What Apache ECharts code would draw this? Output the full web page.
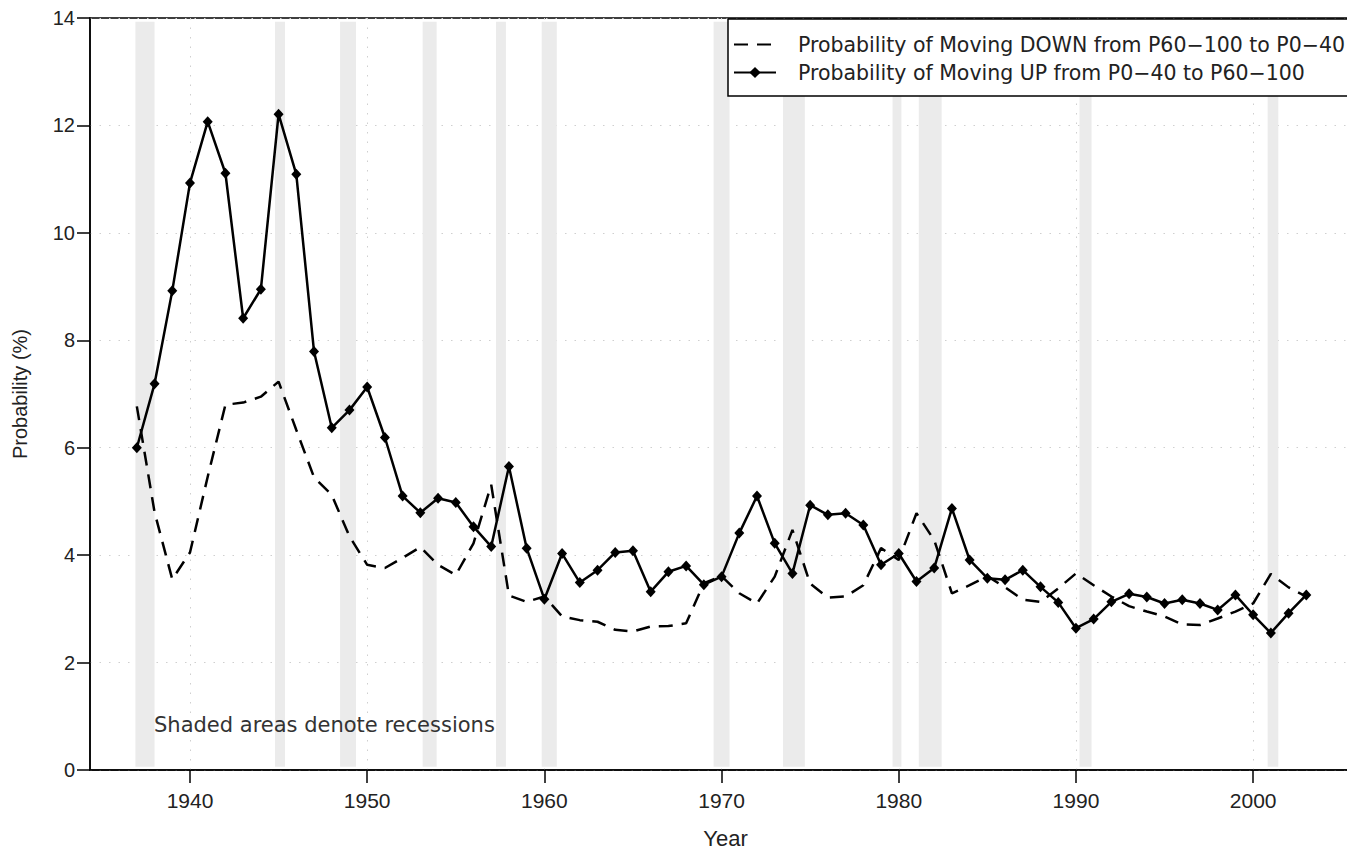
<!DOCTYPE html>
<html>
<head>
<meta charset="utf-8">
<script src="https://cdn.jsdelivr.net/npm/echarts@6/dist/echarts.min.js"></script>
<style>
html,body{margin:0;padding:0;background:#fff;}
#chart{width:1347px;height:850px;}
</style>
</head>
<body>
<div id="chart"></div>
<script>
// ---- data ----
const years = [];
for (let y = 1937; y <= 2003; y++) years.push(y);

const upValues = [
  6.00, 7.19, 8.92, 10.93, 12.07, 11.11, 8.41, 8.95, 12.21, 11.09,
  7.79, 6.37, 6.70, 7.13, 6.19, 5.10, 4.79, 5.06, 4.98, 4.53,
  4.16, 5.65, 4.13, 3.18, 4.03, 3.49, 3.72, 4.05, 4.08, 3.32,
  3.69, 3.80, 3.45, 3.60, 4.41, 5.10, 4.22, 3.66, 4.93, 4.75,
  4.78, 4.56, 3.82, 4.03, 3.51, 3.76, 4.87, 3.91, 3.57, 3.54,
  3.72, 3.41, 3.12, 2.64, 2.81, 3.13, 3.28, 3.22, 3.10, 3.17,
  3.10, 2.98, 3.26, 2.89, 2.55, 2.92, 3.26
];

const downValues = [
  6.77, 4.80, 3.55, 4.05, 5.46, 6.80, 6.84, 6.95, 7.23, 6.33,
  5.45, 5.12, 4.35, 3.82, 3.76, 3.95, 4.15, 3.82, 3.63, 4.22,
  5.31, 3.25, 3.13, 3.23, 2.86, 2.79, 2.76, 2.61, 2.58, 2.67,
  2.68, 2.73, 3.48, 3.61, 3.29, 3.10, 3.60, 4.47, 3.47, 3.21,
  3.23, 3.44, 4.13, 3.91, 4.78, 4.28, 3.29, 3.44, 3.61, 3.40,
  3.17, 3.13, 3.38, 3.66, 3.44, 3.23, 3.05, 2.95, 2.86, 2.71,
  2.70, 2.82, 2.95, 3.10, 3.65, 3.40, 3.23
];

const recessionStarts = [1936.92, 1944.80, 1948.47, 1953.13, 1957.27, 1959.85, 1969.55, 1973.47, 1979.65, 1981.13, 1990.20, 2000.82];
const recessionEnds   = [1938.00, 1945.36, 1949.37, 1953.92, 1957.83, 1960.70, 1970.45, 1974.70, 1980.15, 1982.42, 1990.88, 2001.42];

const xTickYears = [1940, 1950, 1960, 1970, 1980, 1990, 2000];
const yTicks = [0, 2, 4, 6, 8, 10, 12, 14];

const downName = 'Probability of Moving DOWN from P60\u2212100 to P0\u221240';
const upName = 'Probability of Moving UP from P0\u221240 to P60\u2212100';
const noteText = 'Shaded areas denote recessions';

// ---- chart ----
const FONT = '"Liberation Sans", Arial, Helvetica, sans-serif';
const WIDEFONT = '"DejaVu Sans", "Liberation Sans", Arial, sans-serif';
const chart = echarts.init(document.getElementById('chart'), null, {renderer: 'svg'});

const downData = years.map((y, i) => [y, downValues[i]]);
const upData = years.map((y, i) => [y, upValues[i]]);
const bands = recessionStarts.map((s, i) => [
  {coord: [s, 0.06]},
  {coord: [recessionEnds[i], 13.93]}
]);

chart.setOption({
  animation: false,
  backgroundColor: '#fff',
  grid: {
    left: 90, right: -2, top: 18, bottom: 80,
    outerBoundsMode: 'none',
    containLabel: false,
    show: true, borderColor: '#000', borderWidth: 1.5, backgroundColor: 'transparent'
  },
  xAxis: {
    type: 'value',
    min: 1934.357,
    max: 2005.41,
    splitNumber: 7,
    axisLine: {show: true, lineStyle: {color: '#000', width: 1.5}},
    axisTick: {show: true, length: 13, lineStyle: {color: '#000', width: 1.5}, customValues: xTickYears},
    axisLabel: {
      customValues: xTickYears, margin: 20, fontSize: 21, color: '#222', fontFamily: FONT,
      formatter: v => String(Math.round(v))
    },
    splitLine: {show: true, lineStyle: {type: [1.5, 8], color: '#cfcfcf', width: 1}},
    name: 'Year',
    nameLocation: 'middle',
    nameGap: 57,
    nameTextStyle: {fontSize: 22, color: '#222', fontFamily: FONT, padding: [0, 0, 0, 12]}
  },
  yAxis: {
    type: 'value',
    min: 0, max: 14, interval: 2,
    axisLine: {show: true, lineStyle: {color: '#000', width: 1.5}},
    axisTick: {show: true, length: 13, lineStyle: {color: '#000', width: 1.5}},
    axisLabel: {margin: 15, fontSize: 20, color: '#222', fontFamily: FONT},
    splitLine: {show: true, lineStyle: {type: [1.5, 8], color: '#cfcfcf', width: 1}},
    name: 'Probability (%)',
    nameLocation: 'middle',
    nameGap: 60,
    nameTextStyle: {fontSize: 20, color: '#222', fontFamily: FONT}
  },
  legend: {
    orient: 'vertical',
    left: 728, top: 19,
    padding: [15, 30, 13, 5],
    itemGap: 7,
    itemWidth: 42, itemHeight: 14,
    borderColor: '#000', borderWidth: 1.5,
    backgroundColor: '#fff',
    textStyle: {fontSize: 20.5, color: '#222', fontFamily: WIDEFONT, padding: [0, 0, 0, 17]},
    data: [
      {name: downName, itemStyle: {color: 'rgba(0,0,0,0)', borderWidth: 0}},
      {name: upName}
    ]
  },
  graphic: [{
    type: 'text',
    left: 154, top: 714,
    z: 100,
    style: {text: noteText, fill: '#333', font: '21px ' + WIDEFONT}
  }],
  series: [
    {
      name: 'recessions',
      type: 'line',
      data: [],
      z: 1,
      silent: true,
      markArea: {
        silent: true,
        itemStyle: {color: '#ebebeb'},
        data: bands
      }
    },
    {
      name: downName,
      type: 'line',
      data: downData,
      showSymbol: false,
      symbol: 'none',
      z: 3,
      lineStyle: {color: '#000', width: 2.5, type: [14, 9]},
      itemStyle: {color: '#000'}
    },
    {
      name: upName,
      type: 'line',
      data: upData,
      symbol: 'diamond',
      symbolSize: [10, 11],
      z: 4,
      lineStyle: {color: '#000', width: 2.5},
      itemStyle: {color: '#000'}
    }
  ]
});
</script>
</body>
</html>
